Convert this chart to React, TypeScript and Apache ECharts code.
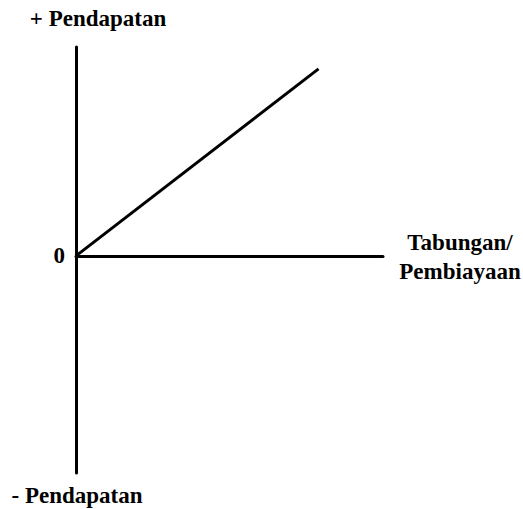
import React, { useEffect, useRef } from "react";
import * as echarts from "echarts";

// Income line against savings / financing
const xRange = [0, 10];
const yRange = [-10.4, 10];
const incomeLine: [number, number][] = [
  [0, 0],
  [7.9, 8.95],
];
const zeroTick = 0;
const topLabel = "+ Pendapatan";
const bottomLabel = "- Pendapatan";
const xLabel = "Tabungan/\nPembiayaan";

const FONT = "Times New Roman, Liberation Serif, serif";

const labelStyle = {
  fill: "#000",
  fontFamily: FONT,
  fontWeight: "bold" as const,
  fontSize: 23,
  align: "center" as const,
  verticalAlign: "middle" as const,
};

export default function App() {
  const ref = useRef<HTMLDivElement>(null);

  useEffect(() => {
    if (!ref.current) return;
    const chart = echarts.init(ref.current, null, { renderer: "svg" });
    chart.setOption({
      animation: false,
      backgroundColor: "#ffffff",
      grid: { left: 76, right: 140, top: 47, bottom: 36 },
      xAxis: {
        type: "value",
        min: xRange[0],
        max: xRange[1],
        axisLine: { show: true, onZero: true, lineStyle: { color: "#000", width: 3 } },
        axisTick: { show: false },
        axisLabel: { show: false },
        splitLine: { show: false },
      },
      yAxis: {
        type: "value",
        min: yRange[0],
        max: yRange[1],
        axisLine: { show: true, onZero: false, lineStyle: { color: "#000", width: 3 } },
        axisTick: { show: false },
        splitLine: { show: false },
        axisLabel: {
          show: true,
          margin: 11,
          color: "#000",
          fontFamily: FONT,
          fontWeight: "bold",
          fontSize: 23,
          formatter: (v: number) => (v === zeroTick ? String(zeroTick) : ""),
          customValues: [zeroTick],
        },
      },
      series: [
        {
          type: "line",
          data: incomeLine,
          symbol: "none",
          lineStyle: { color: "#000", width: 3 },
        },
      ],
      graphic: [
        {
          type: "text",
          x: 98,
          y: 18,
          style: { ...labelStyle, text: topLabel },
        },
        {
          type: "text",
          x: 77,
          y: 495,
          style: { ...labelStyle, text: bottomLabel },
        },
        {
          type: "text",
          x: 460,
          y: 257,
          style: { ...labelStyle, text: xLabel, lineHeight: 29 },
        },
      ],
    });
    return () => chart.dispose();
  }, []);

  return (
    <div
      ref={ref}
      style={{ position: "fixed", left: 0, top: 0, width: 523, height: 509 }}
    />
  );
}
